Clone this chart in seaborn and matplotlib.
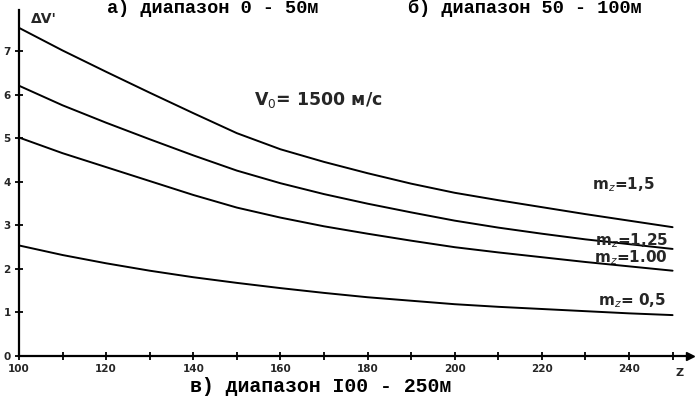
import matplotlib
matplotlib.use("Agg")
import matplotlib.pyplot as plt
import seaborn as sns
import pandas as pd

z = [100, 110, 120, 130, 140, 150, 160, 170, 180, 190, 200, 210, 220, 230, 240, 250]
dv_m150 = [7.54, 7.02, 6.53, 6.05, 5.58, 5.12, 4.75, 4.46, 4.2, 3.96, 3.75, 3.58, 3.42, 3.26, 3.11, 2.96]
dv_m125 = [6.21, 5.76, 5.36, 4.98, 4.61, 4.26, 3.97, 3.72, 3.5, 3.3, 3.11, 2.95, 2.81, 2.68, 2.57, 2.46]
dv_m100 = [5.02, 4.66, 4.34, 4.02, 3.7, 3.41, 3.18, 2.98, 2.81, 2.65, 2.5, 2.38, 2.27, 2.16, 2.06, 1.96]
dv_m050 = [2.54, 2.32, 2.13, 1.96, 1.81, 1.68, 1.56, 1.45, 1.35, 1.27, 1.19, 1.13, 1.08, 1.03, 0.98, 0.94]
series_names = ["m=1,5", "m=1,25", "m=1.00", "m=0,5"]
curve_labels = ["m$_z$=1,5", "m$_z$=1,25", "m$_z$=1.00", "m$_z$= 0,5"]
x_ticks_major = [100, 120, 140, 160, 180, 200, 220, 240]
y_ticks = [0, 1, 2, 3, 4, 5, 6, 7]

rows = []
for name, vals in zip(series_names, [dv_m150, dv_m125, dv_m100, dv_m050]):
    for zi, v in zip(z, vals):
        rows.append({"z": zi, "dv": v, "m": name})
df = pd.DataFrame(rows)

sns.set_style("white")
fig = plt.figure(figsize=(6.96, 4.05), dpi=100)
ax = fig.add_axes([19 / 696, 1 - 356 / 405, 671 / 696, 346 / 405])

sns.lineplot(data=df, x="z", y="dv", hue="m", palette=["black"] * 4,
             legend=False, linewidth=1.4, ax=ax)
for ln in ax.lines:
    ln.set_solid_joinstyle("round")

ax.set_xlim(100, 254)
ax.set_ylim(0, 7.95)
for s in ["top", "right"]:
    ax.spines[s].set_visible(False)
for s in ["left", "bottom"]:
    ax.spines[s].set_linewidth(1.6)
    ax.spines[s].set_color("black")

ax.plot(1, 0, ">k", markersize=6, transform=ax.get_yaxis_transform(), clip_on=False)
ax.plot(0, 1, "^k", markersize=5, transform=ax.get_xaxis_transform(), clip_on=False)

ax.set_xticks(list(range(100, 251, 10)))
ax.set_xticklabels([str(t) if t in x_ticks_major else "" for t in range(100, 251, 10)])
ax.set_yticks(y_ticks)
ax.set_yticklabels([str(t) for t in y_ticks])
ax.tick_params(axis="both", direction="inout", length=6, width=1.3, color="black",
               labelsize=7.5, pad=3, bottom=True, left=True)
for lab in ax.get_xticklabels() + ax.get_yticklabels():
    lab.set_fontweight("bold")
    lab.set_fontfamily("DejaVu Sans")
ax.set_xlabel("")
ax.set_ylabel("")

ax.text(0.018, 0.995, "ΔV'", transform=ax.transAxes, fontsize=10, fontweight="bold",
        va="top", ha="left")
ax.text(0.99, -0.05, "Z", transform=ax.transAxes, fontsize=8, fontweight="bold",
        va="center", ha="right")

ax.text(154, 5.88, "V$_0$= 1500 м/с", fontsize=12.5, fontweight="bold",
        ha="left", va="center")

label_pos = [(246, 3.82), (249, 2.55), (249, 2.16), (248.5, 1.17)]
for txt, (lx, ly) in zip(curve_labels, label_pos):
    ax.text(lx, ly, txt, fontsize=11, fontweight="bold", ha="right", va="baseline")

mono = dict(family="Liberation Mono", fontweight="bold", color="black")
fig.text(107 / 696, 1 - 13 / 405, "а) диапазон 0 - 50м", fontsize=13.4,
         ha="left", va="baseline", **mono)
fig.text(408 / 696, 1 - 13 / 405, "б) диапазон 50 - 100м", fontsize=13.4,
         ha="left", va="baseline", **mono)
fig.text(190 / 696, 1 - 392 / 405, "в) диапазон I00 - 250м", fontsize=14.3,
         ha="left", va="baseline", **mono)

fig.savefig("out.png", dpi=100, facecolor="white")
